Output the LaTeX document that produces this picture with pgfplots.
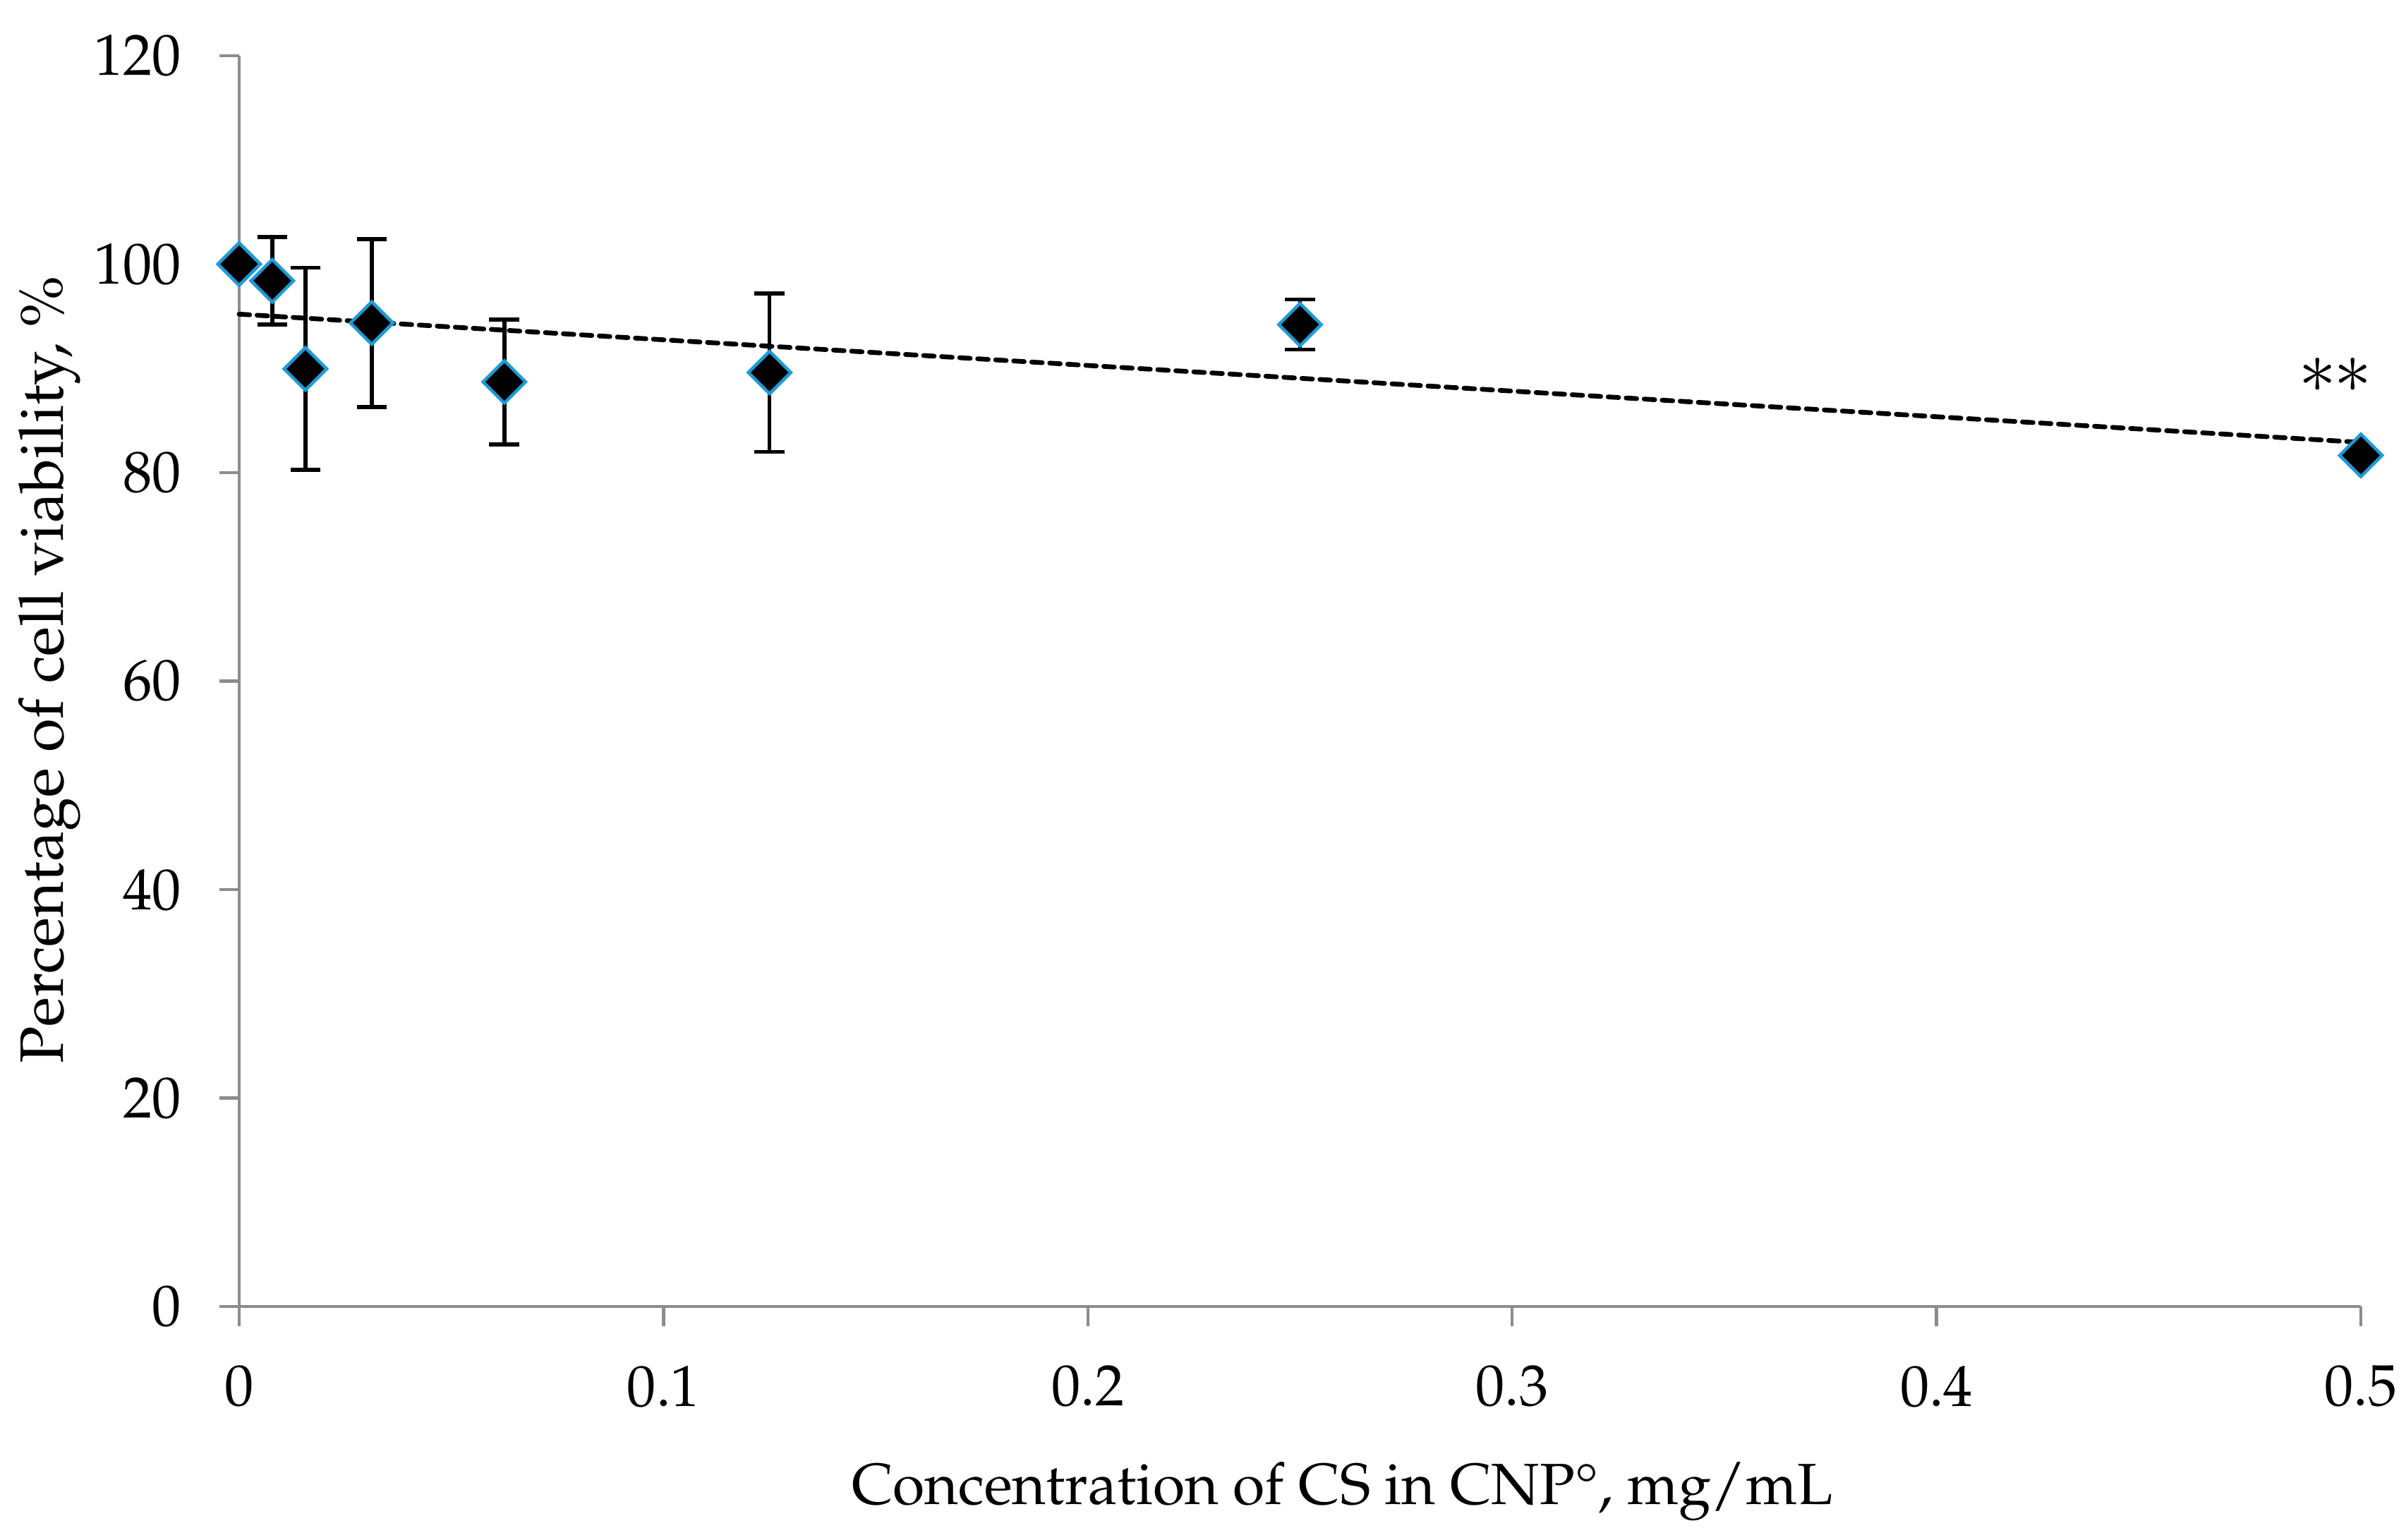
\documentclass[border=0pt]{standalone}
\usepackage[T1]{fontenc}
\usepackage{mathpazo}
\usepackage{textcomp}
\usepackage{pgfplots}
\pgfplotsset{compat=1.18}

\definecolor{axisgray}{HTML}{8C8C8C}
\definecolor{markblue}{HTML}{1E9BD7}

\begin{document}
\fontsize{11}{13}\selectfont
\begin{tikzpicture}
\path[use as bounding box] (-1.59,-1.55) rectangle (14.41,8.69);
\begin{axis}[
    scale only axis,
    width=14.11cm, height=8.32cm,
    xmin=0, xmax=0.5,
    ymin=0, ymax=120,
    xtick={0,0.1,0.2,0.3,0.4,0.5},
    ytick={0,20,40,60,80,100,120},
    axis lines*=left,
    axis line style={axisgray, line width=0.6pt},
    every tick/.style={axisgray, line width=0.6pt},
    tick align=outside,
    major tick length=0.13cm,
    x axis line style={-},
    y axis line style={-},
    xticklabel style={font=\fontsize{11}{13}\selectfont, yshift=-0.13cm},
    yticklabel style={font=\fontsize{11}{13}\selectfont, xshift=-0.12cm},
    xlabel={Concentration of CS in CNP\textdegree, mg/mL},
    ylabel={Percentage of cell viability, \%},
    every axis x label/.style={at={(axis description cs:0.52,-0.148)}, anchor=center,
        font=\fontsize{11}{13}\selectfont},
    every axis y label/.style={at={(axis description cs:-0.0893,0.509)}, rotate=90, anchor=center,
        font=\fontsize{11.6}{13}\selectfont},
    clip=false,
]
% trend line (linear fit)
\addplot[black, line width=0.9pt, line cap=round, dash pattern=on 0.07cm off 0.05cm]
  coordinates {(0,95.2) (0.5,82.9)};

\addplot[
    only marks,
    mark=square*,
    mark size=0.1cm,
    mark options={fill=black, draw=markblue, line width=0.6pt, rotate=45},
    error bars/.cd,
      y dir=both, y explicit,
      error bar style={black, line width=0.75pt},
      error mark options={rotate=90, black, mark size=0.1cm, line width=0.75pt},
] coordinates {
    (0,100) +- (0,0)
    (0.0078125,98.4) +- (0,4.2)
    (0.015625,89.95) +- (0,9.7)
    (0.03125,94.35) +- (0,8.05)
    (0.0625,88.7) +- (0,6.0)
    (0.125,89.6) +- (0,7.6)
    (0.25,94.2) +- (0,2.4)
    (0.5,81.65) +- (0,0)
};
\node[anchor=center, inner sep=0pt, font=\fontsize{13.5}{15}\selectfont]
  at (axis cs:0.494,89.3) {$\ast\mkern-1mu\ast$};
\end{axis}
\end{tikzpicture}
\end{document}
